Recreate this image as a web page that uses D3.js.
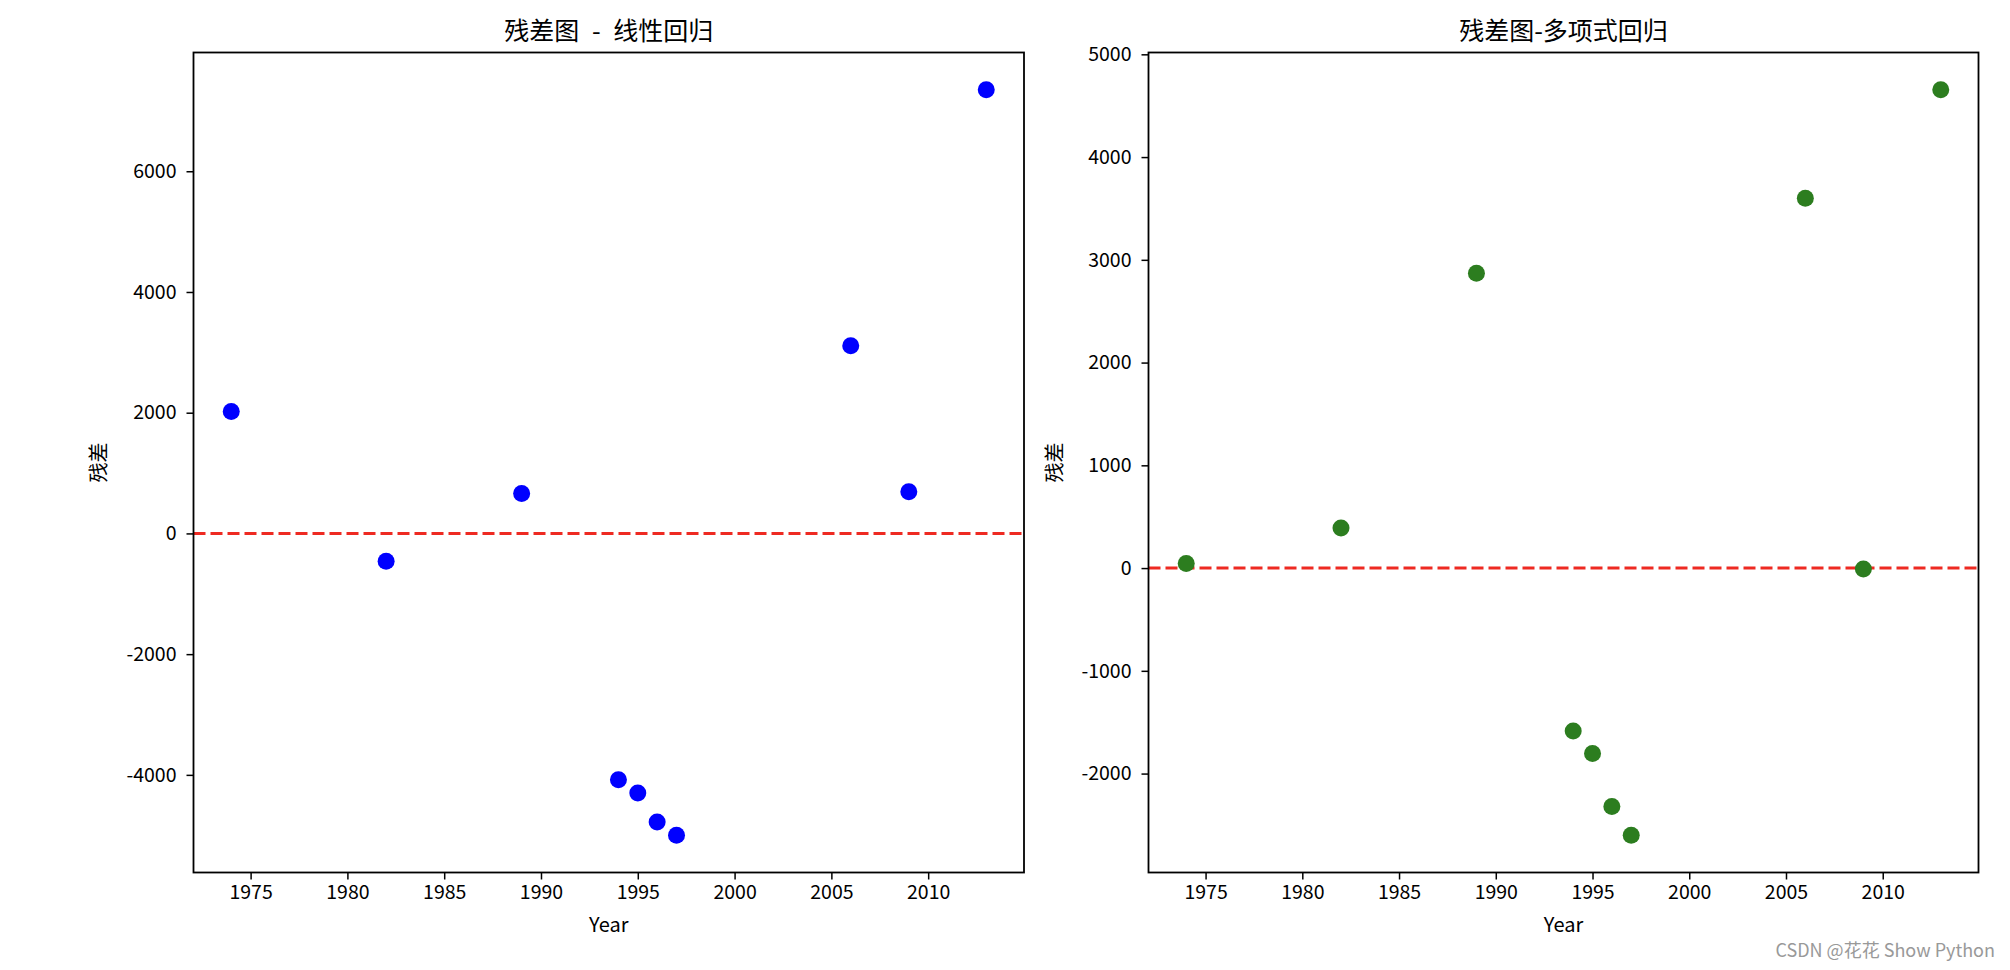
<!DOCTYPE html>
<html>
<head>
<meta charset="utf-8">
<script src="https://cdn.jsdelivr.net/npm/d3@7"></script>
<style>
  html, body { margin: 0; padding: 0; background: #fff; }
  svg text { font-family: "Noto Sans CJK SC", "DejaVu Sans", sans-serif; fill: #000; }
</style>
</head>
<body>
<svg id="chart" width="2010" height="970"></svg>
<script>
// ---- data ----
const years = [1974, 1982, 1989, 1994, 1995, 1996, 1997, 2006, 2009, 2013];
const residLinear = [2020, -460, 660, -4080, -4300, -4780, -5000, 3110, 690, 7350];
const residPoly = [45, 390, 2870, -1585, -1805, -2320, -2600, 3600, -10, 4655];
const xTicks = [1975, 1980, 1985, 1990, 1995, 2000, 2005, 2010];
const yTicksLinear = [-4000, -2000, 0, 2000, 4000, 6000];
const yTicksPoly = [-2000, -1000, 0, 1000, 2000, 3000, 4000, 5000];
const titles = ["残差图 - 线性回归", "残差图-多项式回归"];
const xLabel = "Year";
const yLabel = "残差";
const watermark = "CSDN @花花 Show Python";

(function () {
const svg = d3.select("#chart");

function pad(ext) {
  const m = (ext[1] - ext[0]) * 0.05;
  return [ext[0] - m, ext[1] + m];
}

const panels = [
  { left: 193.5, right: 1024, vals: residLinear, yTicks: yTicksLinear, color: "#0000ff", title: titles[0], ylabX: 99 },
  { left: 1148.5, right: 1978.5, vals: residPoly, yTicks: yTicksPoly, color: "#2c7d1f", title: titles[1], ylabX: 1055 }
];
const plotTop = 52.5, plotBottom = 872.5;

panels.forEach(p => {
  const x = d3.scaleLinear().domain(pad(d3.extent(years))).range([p.left, p.right]);
  const y = d3.scaleLinear().domain(pad(d3.extent(p.vals))).range([plotBottom, plotTop]);
  const g = svg.append("g");

  const xa = g.append("g").attr("transform", `translate(0,${plotBottom})`)
    .call(d3.axisBottom(x).tickValues(xTicks).tickFormat(d3.format("d")).tickSize(7).tickPadding(6).tickSizeOuter(0));
  const ya = g.append("g").attr("transform", `translate(${p.left},0)`)
    .call(d3.axisLeft(y).tickValues(p.yTicks).tickFormat(d => String(d)).tickSize(7).tickPadding(10).tickSizeOuter(0));
  [xa, ya].forEach(a => {
    a.select(".domain").remove();
    a.selectAll(".tick line").attr("stroke", "#000").attr("stroke-width", 1.5);
    a.selectAll(".tick text").style("font-size", "19.5px").attr("fill", "#000");
  });

  g.append("line")
    .attr("x1", p.left).attr("x2", p.right)
    .attr("y1", y(0)).attr("y2", y(0))
    .attr("stroke", "#ee2a22").attr("stroke-width", 3)
    .attr("stroke-dasharray", "12,5");

  g.selectAll("circle.pt").data(years.map((yr, i) => [yr, p.vals[i]]))
    .enter().append("circle").attr("class", "pt")
    .attr("cx", d => x(d[0])).attr("cy", d => y(d[1]))
    .attr("r", 8.5).attr("fill", p.color);

  g.append("rect").attr("x", p.left).attr("y", plotTop)
    .attr("width", p.right - p.left).attr("height", plotBottom - plotTop)
    .attr("fill", "none").attr("stroke", "#000").attr("stroke-width", 1.8);

  g.append("text").attr("x", (p.left + p.right) / 2).attr("y", 40)
    .attr("text-anchor", "middle").style("font-size", "25px")
    .style("word-spacing", "7px").text(p.title);

  g.append("text").attr("x", (p.left + p.right) / 2).attr("y", 932)
    .attr("text-anchor", "middle").style("font-size", "20px").text(xLabel);

  g.append("text").attr("transform", `translate(${p.ylabX},${(plotTop + plotBottom) / 2}) rotate(-90)`)
    .attr("text-anchor", "middle").attr("dy", "0.35em").style("font-size", "20px").text(yLabel);
});

svg.append("text").attr("x", 1995).attr("y", 957).attr("text-anchor", "end")
  .style("font-size", "18px").style("fill", "#999")
  .text(watermark);
})();
</script>
</body>
</html>
